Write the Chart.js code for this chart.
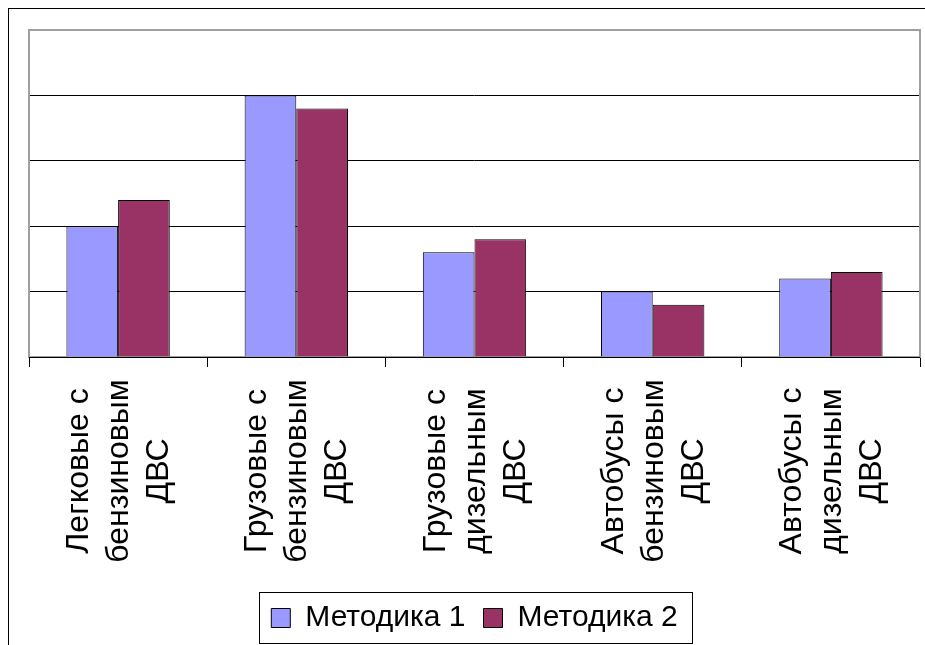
<!DOCTYPE html>
<html>
<head>
<meta charset="utf-8">
<title>Методика 1 / Методика 2</title>
<script src="https://cdn.jsdelivr.net/npm/chart.js@4.4.1/dist/chart.umd.min.js"></script>
<style>
    body { margin: 0; background: #fff; }
    canvas { display: block; }
</style>
</head>
<body>
<canvas id="chart" width="925" height="645"></canvas>
<script>
// Categories (each one split into lines like in the original)
var categories = [
    ['Легковые с', 'бензиновым', 'ДВС'],
    ['Грузовые с', 'бензиновым', 'ДВС'],
    ['Грузовые с', 'дизельным', 'ДВС'],
    ['Автобусы с', 'бензиновым', 'ДВС'],
    ['Автобусы с', 'дизельным', 'ДВС']
];
var seriesNames = ['Методика 1', 'Методика 2'];
var metodika1 = [2.0, 4.0, 1.6, 1.0, 1.2];
var metodika2 = [2.4, 3.8, 1.8, 0.8, 1.3];
// value axis (labels are hidden in the original)
var yMin = 0;
var yMax = 5;
var yStep = 1;

var FONT = 'Liberation Sans, Arial, sans-serif';

// Excel-like decorations: outer frame, plot area frame, centered vertical labels, legend frame
var excelLook = {
    id: 'excelLook',
    beforeDatasetsDraw: function(chart) {
        var ctx = chart.ctx, a = chart.chartArea;
        ctx.save();
        ctx.strokeStyle = '#a0a0a0';
        ctx.lineWidth = 2;
        ctx.strokeRect(a.left, a.top, a.right - a.left, a.bottom - a.top);
        ctx.restore();
    },
    afterDraw: function(chart) {
        var ctx = chart.ctx, a = chart.chartArea;
        var xs = chart.scales.x;
        ctx.save();
        // outer chart frame
        ctx.strokeStyle = '#000';
        ctx.lineWidth = 1;
        ctx.strokeRect(8.5, 8.5, 1000, 1000);

        // axis line
        ctx.beginPath();
        ctx.moveTo(a.left, Math.round(a.bottom) + 0.5);
        ctx.lineTo(a.right, Math.round(a.bottom) + 0.5);
        ctx.stroke();

        // category labels, rotated, lines centered
        ctx.fillStyle = '#000';
        ctx.font = '32px ' + FONT;
        ctx.textAlign = 'center';
        ctx.textBaseline = 'alphabetic';
        var lineGap = 40;
        categories.forEach(function(lines, i) {
            var x = xs.getPixelForValue(i);
            ctx.save();
            ctx.translate(x, a.bottom + 114);
            ctx.rotate(-Math.PI / 2);
            lines.forEach(function(line, j) {
                ctx.fillText(line, 0, (j - (lines.length - 1) / 2) * lineGap + 10);
            });
            ctx.restore();
        });

        // legend frame
        var hb = chart.legend.legendHitBoxes;
        if (hb && hb.length) {
            var first = hb[0], last = hb[hb.length - 1];
            var cy = first.top + first.height / 2;
            var left = Math.round(first.left - 12) + 0.5;
            var right = Math.round(last.left + last.width + 14) + 0.5;
            ctx.strokeRect(left, Math.round(cy - 26) + 0.5, right - left, 51);
        }
        ctx.restore();
    }
};

var ctx = document.getElementById('chart').getContext('2d');
new Chart(ctx, {
    type: 'bar',
    data: {
        labels: categories.map(function(c) { return c.join(' '); }),
        datasets: [{
            label: seriesNames[0],
            data: metodika1,
            backgroundColor: '#9999ff',
            borderColor: '#000',
            borderWidth: 1
        }, {
            label: seriesNames[1],
            data: metodika2,
            backgroundColor: '#993366',
            borderColor: '#000',
            borderWidth: 1
        }]
    },
    options: {
        responsive: false,
        animation: false,
        devicePixelRatio: 1,
        layout: {
            padding: { left: 29, top: 30, right: 5, bottom: 2 }
        },
        datasets: {
            bar: {
                categoryPercentage: 0.58,
                barPercentage: 1
            }
        },
        scales: {
            x: {
                grid: {
                    offset: true,
                    drawOnChartArea: false,
                    drawTicks: true,
                    tickLength: 10,
                    color: '#000'
                },
                border: { display: false },
                ticks: { display: false },
                afterFit: function(scale) { scale.height = 228; }
            },
            y: {
                min: yMin,
                max: yMax,
                ticks: { display: false, stepSize: yStep },
                grid: { color: '#000', drawTicks: false },
                border: { display: false },
                afterFit: function(scale) { scale.width = 0; }
            }
        },
        plugins: {
            legend: {
                position: 'bottom',
                labels: {
                    boxWidth: 19,
                    boxHeight: 19,
                    padding: 18,
                    color: '#000',
                    font: { family: FONT, size: 30 }
                }
            },
            tooltip: { enabled: false }
        }
    },
    plugins: [excelLook]
});
</script>
</body>
</html>
